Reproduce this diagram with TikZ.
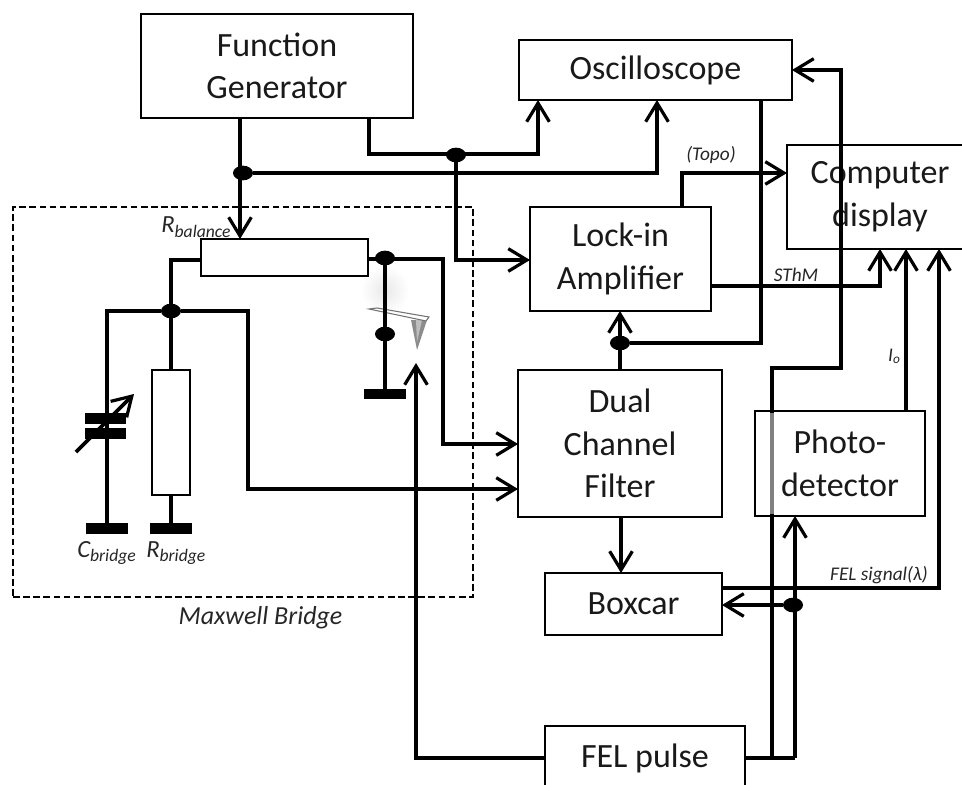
\documentclass[tikz,border=0pt]{standalone}
\usepackage{fontspec}
\setmainfont{Carlito}
\usetikzlibrary{arrows.meta,shapes.geometric}
\tikzset{
 box/.style={draw=black,fill=white,line width=1.5pt,rectangle,inner sep=0pt,outer sep=0pt,align=center,text=black!90,font=\fontsize{25.5}{32}\selectfont},
 res/.style={draw=black,fill=white,line width=1.5pt,rectangle,inner sep=0pt,outer sep=0pt},
 wire/.style={line width=2.7pt,line join=miter,black},
 arr/.style={wire,-{Straight Barb[length=14pt,width=17pt,line width=2.4pt]}},
 dot/.style={ellipse,fill=black,inner sep=0pt,outer sep=0pt,minimum width=15pt,minimum height=11pt},
 plate/.style={fill=black,rectangle,inner sep=0pt,outer sep=0pt,minimum width=31pt,minimum height=8pt},
 lab/.style={text=black!85,inner sep=0pt,font=\itshape\fontsize{18.5}{20}\selectfont},
 small/.style={text=black!85,inner sep=0pt,font=\itshape\fontsize{14.5}{16}\selectfont}
}
\newcommand{\subtxt}[1]{\raisebox{-3pt}{\fontsize{13.2}{15}\selectfont #1}}
\begin{document}
\begin{tikzpicture}[x=0.75pt,y=-0.75pt]
\useasboundingbox (0,0) rectangle (962,784);
\clip (0,0) rectangle (962,784);
% glow behind the cantilever
\shade[inner color=black!9,outer color=white,draw=none] (385,290) circle (24);
% boxes
\node[box,minimum width=204pt,minimum height=78pt] (fg) at (277,66) {Function\\Generator};
\node[box,minimum width=204.75pt,minimum height=45pt] (osc) at (655.5,70) {Oscilloscope};
\node[box,minimum width=139.5pt,minimum height=78pt] (cd) at (880,197) {Computer\\display};
\node[box,minimum width=135.75pt,minimum height=78pt] (lia) at (620.5,259) {Lock-in\\Amplifier};
\node[box,minimum width=153pt,minimum height=110.25pt] (dcf) at (620,443.5) {Dual\\Channel\\Filter};
\node[box,minimum width=127.5pt,minimum height=78.75pt] (pd) at (840,463.5) {Photo-\\detector};
\node[box,minimum width=132.75pt,minimum height=46.5pt] (bc) at (633.5,604) {Boxcar};
\node[box,minimum width=150pt,minimum height=48pt] (fel) at (645,758) {FEL pulse};
\node[res,minimum width=125.25pt,minimum height=27.75pt] (rbal) at (284.5,257.5) {};
\node[res,minimum width=28.5pt,minimum height=93.75pt] (rbr) at (171,432.5) {};
% maxwell bridge frame
\node[draw=black,line width=1.4pt,dash pattern=on 5pt off 2.6pt,rectangle,inner sep=0pt,minimum width=345pt,minimum height=292.5pt] (mb) at (243,402) {};
% cantilever
\fill[black!45] (411,320) -- (427,320) -- (417,350) -- cycle;
\fill[black!25] (416,320) -- (422,320) -- (417,342) -- cycle;
\draw[black!55,fill=white,line width=0.8pt] (369,309) -- (377,308) -- (429,317) -- (426,321) -- cycle;
% junctions
\node[dot] (j1) at (243,173) {};
\node[dot] (j2) at (456,155) {};
\node[dot] (j3) at (385,258) {};
\node[dot] (j4) at (385,334) {};
\node[dot] (j5) at (171,311) {};
\node[dot] (j6) at (620,343) {};
\node[dot] (j7) at (793,605) {};
% grounds and capacitor
\node[plate] (gnd1) at (107,528.5) {};
\node[plate] (gnd2) at (171,528.5) {};
\node[plate] (gnd3) at (385,394) {};
\node[plate] (c1) at (105.5,418.5) {};
\node[plate] (c2) at (105.5,433.5) {};
\coordinate (ctop) at (107,311);
\coordinate (a1) at (248,311);
\coordinate (a2) at (248,489);
\coordinate (b1) at (443,259);
\coordinate (b2) at (443,444);
\coordinate (t1) at (416,758);
\coordinate (t2) at (416,363);
\coordinate (o1) at (841,70);
\coordinate (o2) at (841,368);
\coordinate (o3) at (772,368);
\coordinate (o4) at (772,758);
\coordinate (o5) at (761,343);
\coordinate (f1) at (795,758);
\coordinate (s1) at (880,286);
\coordinate (d1) at (939,588);
\coordinate (tp1) at (682,173);
\coordinate (va) at (76,452);
\coordinate (vb) at (134,394);
\coordinate (w1) at (369,154);
\coordinate (w2) at (538,154);
\coordinate (rl) at (171,260);
\coordinate (k1) at (456,260);
\coordinate (j1r) at (657,173);
\coordinate (j1x) at (240,173);
\coordinate (i1) at (906,300);
\coordinate (n1) at (621,540);
% wires
\draw[arr] (fg.south -| j1x) -- (rbal.north -| j1x);
\draw[arr] (j1) -- (j1r) -- (osc.south -| j1r);
\draw[arr] (fg.south -| w1) -- (w1) -- (w2) -- (osc.south -| w2);
\draw[arr] (j2) -- (k1) -- (lia.west |- k1);
\draw[wire] (rbal.west |- rl) -- (rl) -- (rbr.north -| rl);
\draw[wire] (rbr.south) -- (gnd2.north);
\draw[wire] (gnd1.north) -- (ctop) -- (j5);
\draw[arr] (j5) -- (a1) -- (a2) -- (dcf.west |- a2);
\draw[arr] (rbal.east |- b1) -- (b1) -- (b2) -- (dcf.west |- b2);
\draw[wire] (j3) -- (gnd3.north);
\draw[arr] (va) -- (vb);
\draw[arr] (fel.west |- t1) -- (t1) -- (t2);
\draw[arr] (o4) -- (o3) -- (o2) -- (o1) -- (osc.east |- o1);
\draw[wire] (fel.east |- f1) -- (f1);
\draw[arr] (f1) -- (pd.south -| f1);
\draw[arr] (j7) -- (bc.east |- j7);
\draw[arr] (bc.east |- d1) -- (d1) -- (cd.south -| d1);
\draw[arr] (pd.north -| i1) -- (cd.south -| i1);
\draw[arr] (lia.east |- s1) -- (s1) -- (cd.south -| s1);
\draw[arr] (lia.north -| tp1) -- (tp1) -- (cd.west |- tp1);
\draw[wire] (osc.south -| o5) -- (o5) -- (j6);
\draw[arr] (dcf.north -| j6) -- (lia.south -| j6);
\draw[arr] (dcf.south -| n1) -- (bc.north -| n1);
% grey stretch of the wire seen through the detector box
\draw[line width=2.7pt,black!50] (772,413) -- (772,514);
% labels
\node[lab,anchor=base west] (l1) at (161,233) {R\subtxt{balance}};
\node[lab,anchor=base west] (l2) at (77,557) {C\subtxt{bridge}};
\node[lab,anchor=base west] (l3) at (146,557) {R\subtxt{bridge}};
\node[lab,anchor=base,font=\itshape\fontsize{19.5}{20}\selectfont] (l4) at (260.5,624) {Maxwell Bridge};
\node[small,anchor=base] (l5) at (711,161) {(Topo)};
\node[small,anchor=base] (l6) at (796,281) {SThM};
\node[small,anchor=base] (l7) at (894,361) {I\raisebox{-2pt}{\fontsize{10}{11}\selectfont o}};
\node[small,anchor=base] (l8) at (879,580) {FEL signal(λ)};
\end{tikzpicture}
\end{document}
